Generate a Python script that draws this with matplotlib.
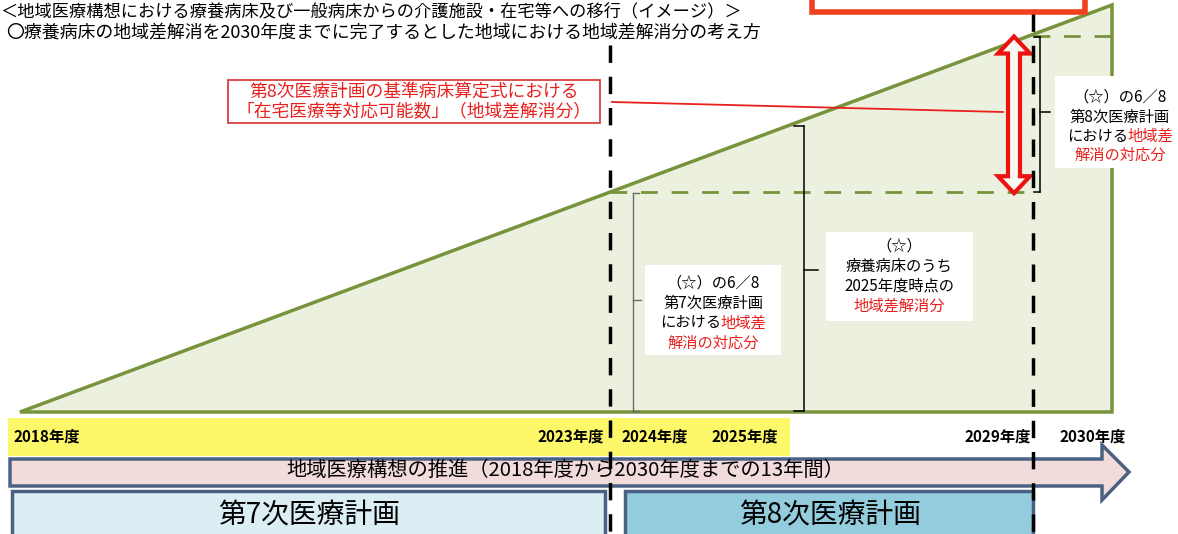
import matplotlib
matplotlib.use("Agg")
import matplotlib.pyplot as plt
from matplotlib.patches import Polygon, Rectangle

plt.rcParams['font.family'] = ['Noto Sans CJK JP', 'DejaVu Sans']

# ---------------- data ----------------
header_lines = [
    "＜地域医療構想における療養病床及び一般病床からの介護施設・在宅等への移行（イメージ）＞",
    "〇療養病床の地域差解消を2030年度までに完了するとした地域における地域差解消分の考え方",
]
year_labels = ["2018年度", "2023年度", "2024年度", "2025年度", "2029年度", "2030年度"]
plan_names = ["第7次医療計画", "第8次医療計画"]
progress_label = "地域医療構想の推進（2018年度から2030年度までの13年間）"
red_note = ["第8次医療計画の基準病床算定式における", "「在宅医療等対応可能数」（地域差解消分）"]
# schematic cumulative share of the regional gap resolved
milestones = ["2018年度初", "2023年度末", "2025年度末", "2029年度末", "2030年度末"]
gap_share = [0.0, 0.54, 0.70, 0.925, 1.0]

# ---------------- layout ----------------
W, H = 1178, 534
fig = plt.figure(figsize=(W / 100, H / 100), dpi=100)
ax = fig.add_axes([0, 0, 1, 1])
ax.set_xlim(0, W)
ax.set_ylim(H, 0)
ax.axis('off')
renderer = fig.canvas.get_renderer()

GREEN = '#77933c'
FILL = '#ebf1de'
RED = '#e8201e'
NAVY = '#4a6184'

base_y, top_y = 412, 5
x_start, x_end = 20, 1112
x_m = {"2018年度初": 20, "2023年度末": 610, "2025年度末": 804, "2029年度末": 1033, "2030年度末": 1112}


def share_y(s):
    return base_y - s * (base_y - top_y)


def line_y(x):
    return share_y(gap_share[0] + (gap_share[-1] - gap_share[0]) * (x - x_start) / (x_end - x_start))


# header text
ax.text(0, 11, header_lines[0], fontsize=12.4, va='center', ha='left', color='black')
ax.text(6, 33, header_lines[1], fontsize=12.9, va='center', ha='left', color='black')

# top red box (cut off)
ax.add_patch(Rectangle((812, -30), 273, 42, facecolor='white', edgecolor='#f0401e', lw=4, zorder=6))

# triangle
tri = Polygon([(x_start, share_y(gap_share[0])), (x_end, share_y(gap_share[-1])), (x_end, base_y)],
              closed=True, facecolor=FILL, edgecolor=GREEN, lw=2.5, zorder=1)
ax.add_patch(tri)

# dashed green levels
y23 = share_y(gap_share[1])
y29 = share_y(gap_share[3])
ax.plot([x_m["2023年度末"], x_m["2029年度末"]], [y23, y23], color=GREEN, lw=2, dashes=(6, 5), zorder=2)
ax.plot([x_m["2029年度末"], x_end], [y29, y29], color=GREEN, lw=2, dashes=(6, 5), zorder=2)

# yellow band
ax.add_patch(Rectangle((8, 418), 782, 38, facecolor='#fdf76a', edgecolor='none', zorder=1))

# year labels
yl_pos = [(13, 'left'), (604, 'right'), (622, 'left'), (712, 'left'), (1031, 'right'), (1060, 'left')]
for lab, (x, ha) in zip(year_labels, yl_pos):
    ax.text(x, 437, lab, fontsize=11, fontweight='bold', ha=ha, va='center', color='black', zorder=5)

# progress arrow
arrow = Polygon([(10, 459), (1102, 459), (1102, 445), (1129, 472), (1102, 500), (1102, 486), (10, 486)],
                closed=True, facecolor='#f2dcdb', edgecolor=NAVY, lw=2.5, zorder=3)
ax.add_patch(arrow)
ax.text(565, 470, progress_label, fontsize=14.6, ha='center', va='center', color='black', zorder=4)

# plan boxes
ax.add_patch(Rectangle((12, 491), 593, 60, facecolor='#dbeef4', edgecolor=NAVY, lw=2.5, zorder=3))
ax.add_patch(Rectangle((625, 491), 408, 60, facecolor='#93cddd', edgecolor=NAVY, lw=2.5, zorder=3))
ax.text(309, 516, plan_names[0], fontsize=20, ha='center', va='center', color='black', zorder=4)
ax.text(830, 516, plan_names[1], fontsize=20, ha='center', va='center', color='black', zorder=4)

# black dashed vertical lines
ax.plot([x_m["2023年度末"]] * 2, [45, H], color='black', lw=2.5, dashes=(5, 4), zorder=7)
ax.plot([x_m["2029年度末"]] * 2, [14, H], color='black', lw=2.5, dashes=(5, 4), zorder=7)

# red note box + line
ax.add_patch(Rectangle((228, 80), 372, 43, facecolor='white', edgecolor='#d94040', lw=1.3, zorder=4))
ax.text(414, 91.5, red_note[0], fontsize=12.8, ha='center', va='center', color=RED, zorder=5)
ax.text(414, 112, red_note[1], fontsize=12.8, ha='center', va='center', color=RED, zorder=5)
ax.plot([612, 1003], [102, 112], color=RED, lw=1.3, zorder=5)

# red hollow double arrow
xc = 1014
yt, yb = share_y(gap_share[3]) + 1, share_y(gap_share[1]) + 1
hw, sw, hl = 16, 10, 17
dbl = Polygon([(xc, yt), (xc + hw, yt + hl), (xc + sw / 2 + 1, yt + hl), (xc + sw / 2 + 1, yb - hl),
               (xc + hw, yb - hl), (xc, yb), (xc - hw, yb - hl), (xc - sw / 2 - 1, yb - hl),
               (xc - sw / 2 - 1, yt + hl), (xc - hw, yt + hl)],
              closed=True, facecolor='#f7f9f2', edgecolor='#ee1111', lw=3, zorder=6)
ax.add_patch(dbl)


def brace(x, y0, y1, hook_dir, hook_len, mid_y, notch_dir, notch_len, color='black', lw=1.1):
    ax.plot([x, x], [y0, y1], color=color, lw=lw, zorder=5)
    ax.plot([x, x + hook_dir * hook_len], [y0, y0], color=color, lw=lw, zorder=5)
    ax.plot([x, x + hook_dir * hook_len], [y1, y1], color=color, lw=lw, zorder=5)
    ax.plot([x, x + notch_dir * notch_len], [mid_y, mid_y], color=color, lw=lw, zorder=5)


# brackets
brace(1040, y29 + 1, y23, -1, 6, 112, 1, 10)
brace(804, line_y(804) + 6, base_y - 1, -1, 10, 270, 1, 14)
brace(633, y23 + 1, base_y - 1, 1, 6, 300, 1, 8, color='#6b6b6b', lw=1.0)


def text_width(t, fs):
    tmp = ax.text(0, 0, t, fontsize=fs)
    bb = tmp.get_window_extent(renderer=renderer)
    tmp.remove()
    return bb.width


def text_box(x0, y0, w, h, lines, ys, cx, fs=11):
    ax.add_patch(Rectangle((x0, y0), w, h, facecolor='white', edgecolor='none', zorder=4))
    em = fs * 100 / 72
    for parts, y in zip(lines, ys):
        full = "".join(t for t, _ in parts)
        tot = text_width(full, fs)
        x = cx - tot / 2
        acc = ""
        for t, c in parts:
            xx = x + (len(acc) * em if acc else 0)
            ax.text(xx, y, t, fontsize=fs, ha='left', va='center', color=c, zorder=5)
            acc += t


K = 'black'
text_box(645, 265, 136, 90,
         [[("（☆）の6／8", K)], [("第7次医療計画", K)], [("における", K), ("地域差", RED)], [("解消の対応分", RED)]],
         [283, 303, 323, 343], 713)
text_box(826, 232, 147, 89,
         [[("（☆）", K)], [("療養病床のうち", K)], [("2025年度時点の", K)], [("地域差解消分", RED)]],
         [246, 266, 286, 306], 899)
text_box(1055, 76, 123, 92,
         [[("（☆）の6／8", K)], [("第8次医療計画", K)], [("における", K), ("地域差", RED)], [("解消の対応分", RED)]],
         [97, 117, 136, 155], 1120)

fig.savefig("out.png", dpi=100)
